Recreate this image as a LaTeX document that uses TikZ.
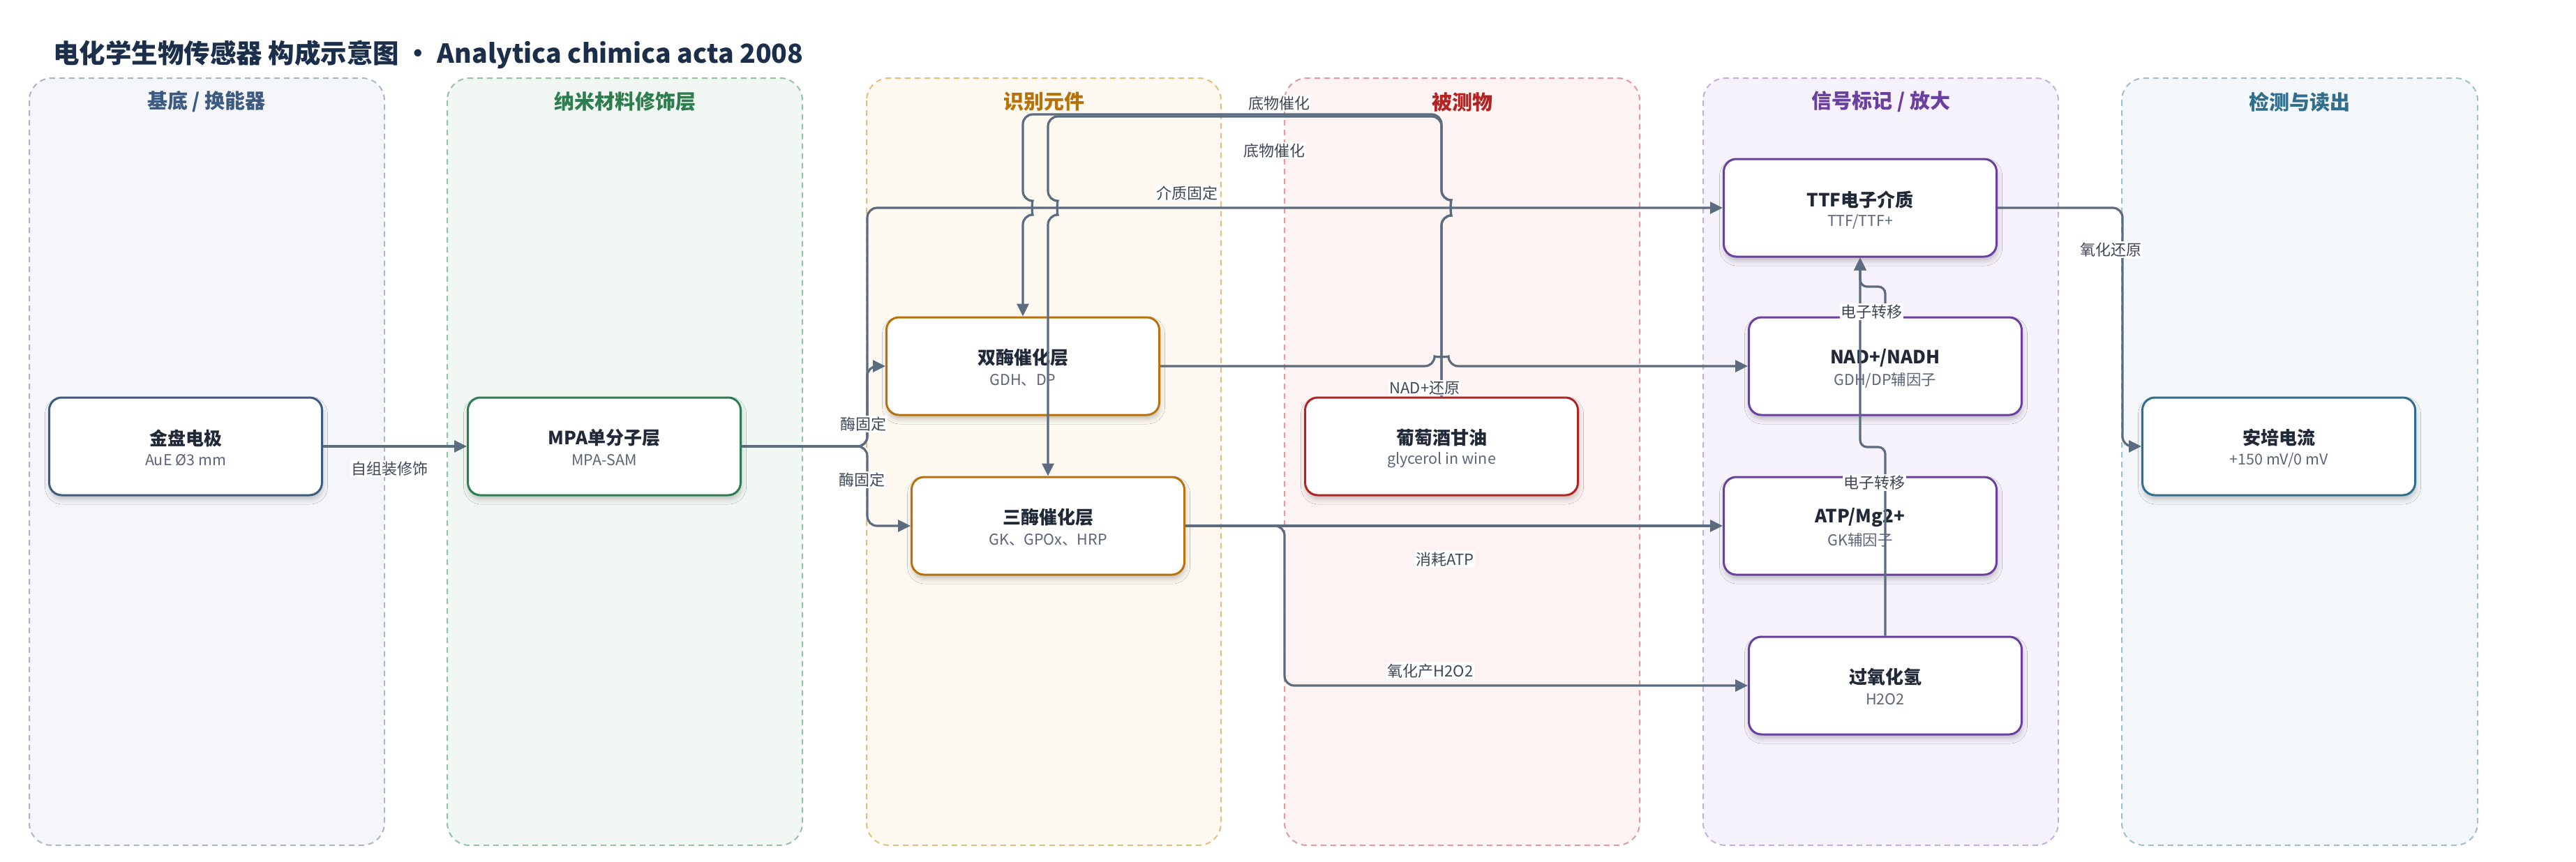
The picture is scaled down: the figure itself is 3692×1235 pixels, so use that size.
\documentclass[tikz,border=0pt]{standalone}
\usepackage{fontspec}
\setmainfont{Noto Sans CJK SC}
\usetikzlibrary{arrows.meta,shadows.blur}
\definecolor{ink}{HTML}{1F2937}
\definecolor{subc}{HTML}{5B6577}
\definecolor{titlec}{HTML}{1B2F4B}
\definecolor{edgec}{HTML}{5B6B80}
\definecolor{labc}{HTML}{3F4756}
\definecolor{cA}{HTML}{3D5A80}\definecolor{fA}{HTML}{F4F6FA}\definecolor{dA}{HTML}{A9B6C8}
\definecolor{cB}{HTML}{2E7D4F}\definecolor{fB}{HTML}{F1F8F3}\definecolor{dB}{HTML}{93C3A3}
\definecolor{cC}{HTML}{B8720B}\definecolor{fC}{HTML}{FEF9F0}\definecolor{dC}{HTML}{E5BE7D}
\definecolor{cD}{HTML}{B22424}\definecolor{fD}{HTML}{FDF3F2}\definecolor{dD}{HTML}{E29A9A}
\definecolor{cE}{HTML}{6B3FA0}\definecolor{fE}{HTML}{F6F2FB}\definecolor{dE}{HTML}{C6AEE2}
\definecolor{cF}{HTML}{2F6E8C}\definecolor{fF}{HTML}{F3F7F9}\definecolor{dF}{HTML}{9CC0CE}
\tikzset{
  lane/.style={line width=2pt, dash pattern=on 8pt off 6pt, rounded corners=32pt},
  lanehead/.style={font=\fontsize{29}{34}\selectfont\bfseries},
  box/.style={line width=3pt, fill=white, rounded corners=18pt, minimum width=391pt,
    minimum height=140pt, inner sep=0pt,
    blur shadow={shadow xshift=1pt, shadow yshift=-6pt, shadow blur radius=7pt, shadow opacity=22}},
  ttl/.style={font=\fontsize{26}{30}\selectfont\bfseries, text=ink, inner sep=0pt},
  subt/.style={font=\fontsize{21.5}{25}\selectfont, text=subc, inner sep=0pt},
  edge/.style={draw=edgec, line width=3.2pt, rounded corners=14pt,
    -{Triangle[length=18pt,width=17pt]}},
  elab/.style={fill=white, text=labc, font=\fontsize{22}{26}\selectfont, inner sep=1.5pt}
}
\newcommand\mkbox[6]{%
  \node[box, draw=#4] (#1) at (#2,#3) {};
  \node[ttl] (#1-t) at ([yshift=12pt]#1.center) {#5};
  \node[subt] (#1-s) at ([yshift=-20pt]#1.center) {#6};
}
\begin{document}
\begin{tikzpicture}[x=1pt,y=-1pt]
\useasboundingbox (0,0) rectangle (3692,1235);
\fill[white] (0,0) rectangle (3692,1235);

% lanes
\draw[lane, draw=dA, fill=fA] (42,112) rectangle (551,1212);
\draw[lane, draw=dB, fill=fB] (641,112) rectangle (1150,1212);
\draw[lane, draw=dC, fill=fC] (1242,112) rectangle (1750,1212);
\draw[lane, draw=dD, fill=fD] (1841,112) rectangle (2350,1212);
\draw[lane, draw=dE, fill=fE] (2441,112) rectangle (2950,1212);
\draw[lane, draw=dF, fill=fF] (3041,112) rectangle (3551,1212);

\node[lanehead, text=cA] (h1) at (296,146) {基底 / 换能器};
\node[lanehead, text=cB] (h2) at (896,146) {纳米材料修饰层};
\node[lanehead, text=cC] (h3) at (1496,146) {识别元件};
\node[lanehead, text=cD] (h4) at (2096,146) {被测物};
\node[lanehead, text=cE] (h5) at (2696,146) {信号标记 / 放大};
\node[lanehead, text=cF] (h6) at (3296,146) {检测与读出};

\node[anchor=west, text=titlec, font=\fontsize{37.5}{42}\selectfont\bfseries, inner sep=0pt] (title) at (76,78)
  {电化学生物传感器 构成示意图 · Analytica chimica acta 2008};

% nodes
\mkbox{n1}{266}{640}{cA}{金盘电极}{AuE Ø3 mm}
\mkbox{n2}{866}{640}{cB}{MPA单分子层}{MPA-SAM}
\mkbox{n3}{1466}{525}{cC}{双酶催化层}{GDH、DP}
\mkbox{n4}{1502}{754}{cC}{三酶催化层}{GK、GPOx、HRP}
\mkbox{n5}{2066}{640}{cD}{葡萄酒甘油}{glycerol in wine}
\mkbox{n6}{2666}{298}{cE}{TTF电子介质}{TTF/TTF+}
\mkbox{n7}{2702}{525}{cE}{NAD+/NADH}{GDH/DP辅因子}
\mkbox{n8}{2666}{754}{cE}{ATP/Mg2+}{GK辅因子}
\mkbox{n9}{2702}{983}{cE}{过氧化氢}{H2O2}
\mkbox{n10}{3266}{640}{cF}{安培电流}{+150 mV/0 mV}

% edges
\draw[edge] (n1.east) -- (n2.west);
\draw[edge] (n2.east) -- (1243,640) |- (n3.west);
\draw[edge] (n2.east) -- (1243,640) |- (n4.west);
\draw[edge] (n2.east) -- (1243,640) |- (n6.west);
\draw[edge] (n5.north) -- (2066,309) .. controls (2079,309) and (2079,287) .. (2066,287)
  -- (2066,164) -- (1466,164) -- (1466,288) .. controls (1479,288) and (1479,308) .. (1466,308) -- (n3.north);
\draw[edge] (n5.north) -- (2066,309) .. controls (2079,309) and (2079,287) .. (2066,287)
  -- (2066,167) -- (1502,167) -- (1502,288) .. controls (1515,288) and (1515,308) .. (1502,308) -- (n4.north);
\draw[edge] (n3.east) -- (2056,525) .. controls (2056,512) and (2076,512) .. (2076,525) -- (n7.west);
\draw[edge] (n4.east) -- (n8.west);
\draw[edge] (n4.east) -- (1841,754) |- (n9.west);
\draw[edge, rounded corners=10pt] (n7.north) -- (2702,411) -- (2666,411) -- (n6.south);
\draw[edge, rounded corners=10pt] (n9.north) -- (2702,641) -- (2666,641) -- (n6.south);
\draw[edge] (n6.east) -- (3042,298) |- (n10.west);

% edge labels
\node[elab] (l1) at (558,672) {自组装修饰};
\node[elab] (l2) at (1237,608) {酶固定};
\node[elab] (l3) at (1235,688) {酶固定};
\node[elab] (l4) at (1701,277) {介质固定};
\node[elab] (l5) at (1833,148) {底物催化};
\node[elab] (l6) at (1826,216) {底物催化};
\node[elab] (l7) at (2042,556) {NAD+还原};
\node[elab] (l8) at (2071,802) {消耗ATP};
\node[elab] (l9) at (2050,962) {氧化产H2O2};
\node[elab] (l10) at (2682,447) {电子转移};
\node[elab] (l11) at (2686,692) {电子转移};
\node[elab] (l12) at (3025,358) {氧化还原};
\end{tikzpicture}
\end{document}
